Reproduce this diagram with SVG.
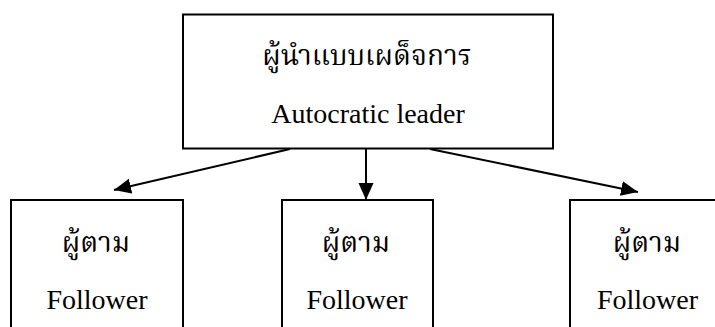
<svg xmlns="http://www.w3.org/2000/svg" width="715" height="327" viewBox="0 0 715 327">
<style>
.box{fill:#fff;stroke:#000;stroke-width:2}
.th{font-family:"Noto Serif Thai","Noto Sans Thai","Liberation Serif",serif;font-size:28px;text-anchor:middle;fill:#000}
.en{font-family:"Liberation Serif","Times New Roman",serif;font-size:28px;text-anchor:middle;fill:#000}
.conn{stroke:#000;stroke-width:2;fill:none}
</style>
<defs>
<marker id="ah" markerUnits="userSpaceOnUse" markerWidth="18" markerHeight="16" refX="17" refY="7.5" orient="auto">
<path d="M0,0 L17,7.5 L0,15 Z" fill="#000"/>
</marker>
</defs>
<rect width="715" height="327" fill="#fff"/>
<g id="leader">
<rect class="box" x="183" y="14.5" width="370" height="134"/>
<text class="th" x="367" y="65">ผู้นำแบบเผด็จการ</text>
<text class="en" x="368" y="123">Autocratic leader</text>
</g>
<g id="follower1">
<rect class="box" x="11" y="200" width="172" height="140"/>
<text class="th" x="96" y="252">ผู้ตาม</text>
<text class="en" x="97" y="309">Follower</text>
</g>
<g id="follower2">
<rect class="box" x="282" y="200" width="151" height="140"/>
<text class="th" x="356" y="252">ผู้ตาม</text>
<text class="en" x="357" y="309">Follower</text>
</g>
<g id="follower3">
<rect class="box" x="570" y="200" width="172" height="140"/>
<text class="th" x="647" y="252">ผู้ตาม</text>
<text class="en" x="647.5" y="309">Follower</text>
</g>
<g id="connectors">
<line class="conn" x1="290" y1="149" x2="114" y2="190" marker-end="url(#ah)"/>
<line class="conn" x1="366" y1="149" x2="366" y2="200" marker-end="url(#ah)"/>
<line class="conn" x1="430" y1="149" x2="638" y2="192" marker-end="url(#ah)"/>
</g>
</svg>
